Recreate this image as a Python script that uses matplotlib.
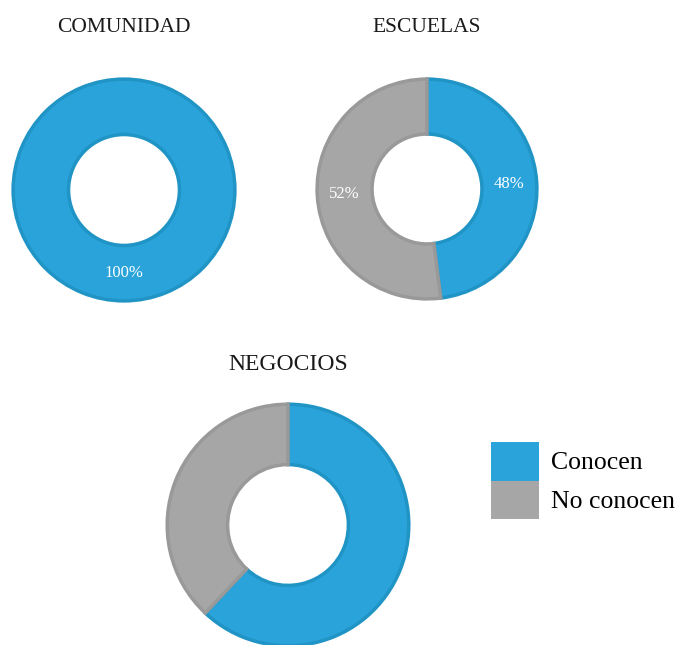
import matplotlib
matplotlib.use('Agg')
import matplotlib.pyplot as plt
from matplotlib.patches import Patch

# datos de las tres encuestas (porcentajes)
labels = ["Conocen", "No conocen"]
comunidad = [100, 0]
escuelas = [48, 52]
negocios = [62, 38]

colors = ["#29a3da", "#a7a6a6"]
edges = ["#2194c6", "#999999"]

W, H = 683, 645
fig = plt.figure(figsize=(W / 100, H / 100), dpi=100)


def donut(cx, cy, r, values, title, title_y, title_size, show_pct=True):
    # axes placed in pixel units, converted to figure fraction
    ax = fig.add_axes([(cx - r) / W, 1 - (cy + r) / H, 2 * r / W, 2 * r / H])
    vals = [v for v in values if v > 0]
    cols = [colors[i] for i, v in enumerate(values) if v > 0]
    pct = (lambda p: "%d%%" % round(p)) if show_pct else None
    res = ax.pie(vals, colors=cols, startangle=90, counterclock=False,
                 radius=1, autopct=pct, pctdistance=0.75,
                 wedgeprops=dict(width=0.5, linewidth=2.5))
    wedges = res[0]
    for w, c in zip(wedges, [edges[i] for i, v in enumerate(values) if v > 0]):
        w.set_edgecolor(c)
    if show_pct:
        for t in res[2]:
            t.set_color("white")
            t.set_fontsize(12)
            t.set_family("Liberation Serif")
    ax.set_xlim(-1.01, 1.01)
    ax.set_ylim(-1.01, 1.01)
    ax.set_aspect("equal")
    fig.text(cx / W, 1 - title_y / H, title, ha="center", va="center",
             fontsize=title_size, family="Liberation Serif", color="#1a1a1a")


donut(124, 190, 112, comunidad, "COMUNIDAD", 27, 15.5)
donut(427, 189, 111, escuelas, "ESCUELAS", 27, 15.5)
donut(288, 525, 122, negocios, "NEGOCIOS", 364, 17, show_pct=False)

handles = [Patch(facecolor=c, edgecolor="none") for c in colors]
fig.legend(handles, labels, loc="upper left",
           bbox_to_anchor=(491 / W, 1 - 442 / H), frameon=False,
           prop=dict(family="Liberation Serif", size=18.5),
           handlelength=1.87, handleheight=1.93, handletextpad=0.45,
           labelspacing=0.0, borderpad=0, borderaxespad=0)

fig.savefig("out.png", dpi=100)
